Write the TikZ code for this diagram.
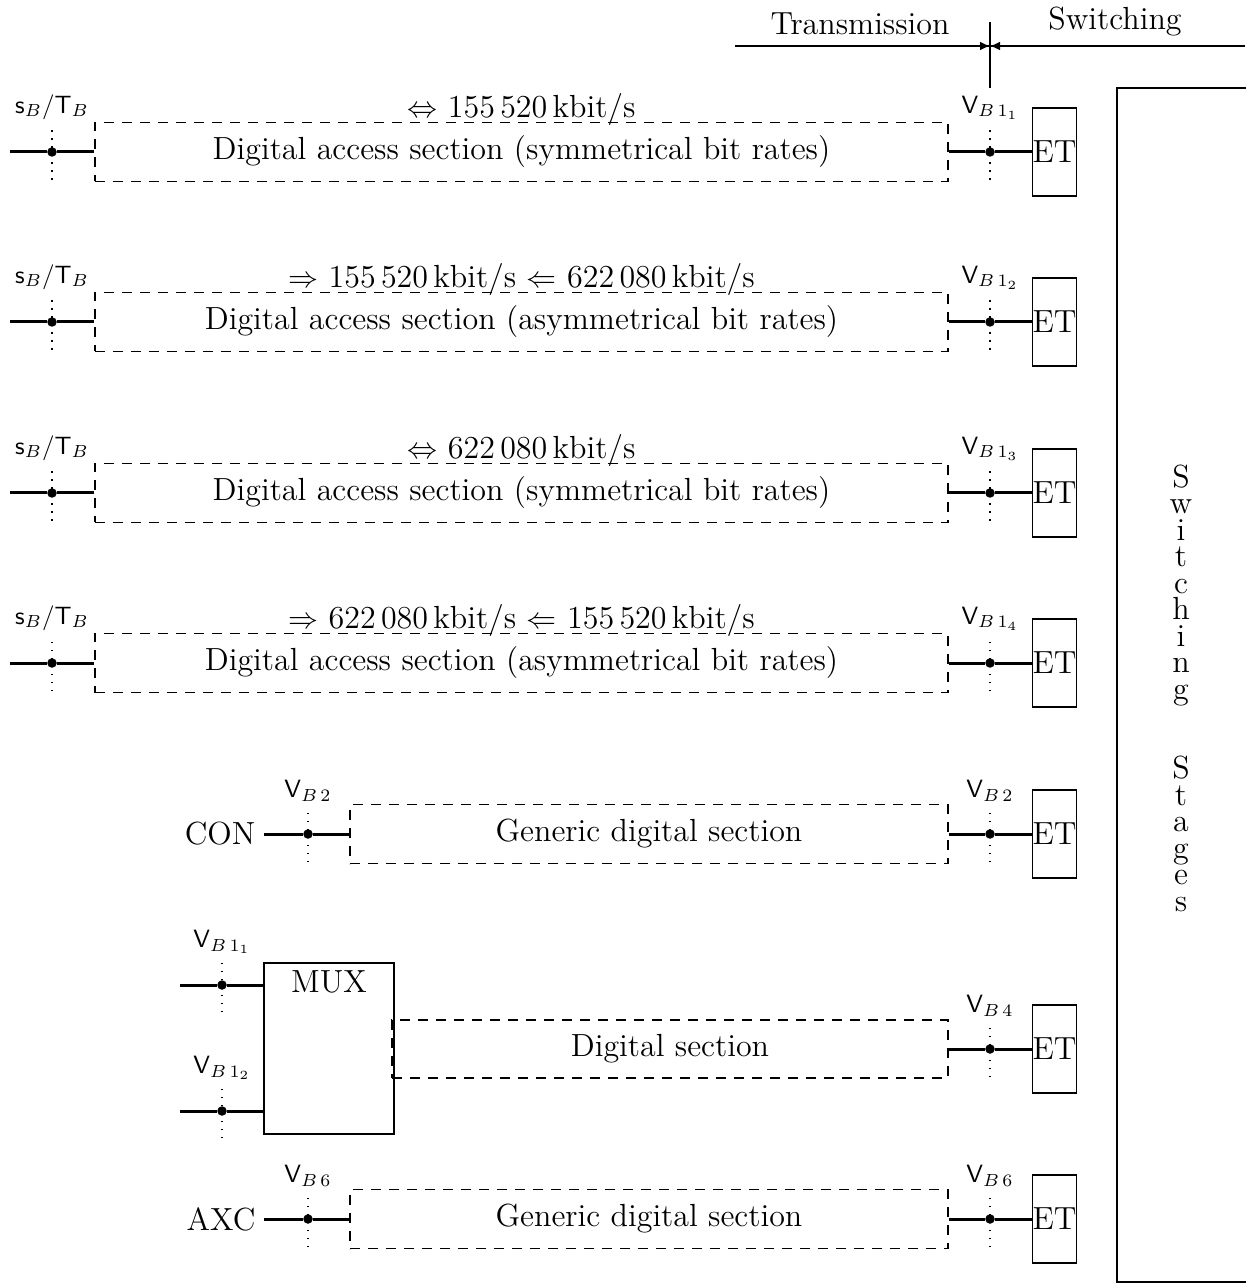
\documentclass[tikz,border=0pt]{standalone}
\usetikzlibrary{arrows.meta}
\tikzset{
  sect/.style={draw, dash pattern=on 4pt off 3.2pt, line width=0.5pt, minimum width=341.2pt, minimum height=23.6pt, inner sep=0pt},
  etbox/.style={draw, line width=0.6pt, minimum width=17.2pt, minimum height=35.2pt, inner sep=0pt},
  junc/.style={circle, fill, inner sep=0pt, minimum size=3.8pt},
  wire/.style={line width=1.2pt},
  probe/.style={line width=0.6pt, dash pattern=on 0.6pt off 2.6pt},
  lab/.style={font=\fontsize{10}{12}\selectfont, inner sep=1.5pt},
  rate/.style={inner sep=0pt, anchor=base, yshift=1.6pt}
}
\begin{document}
\begin{tikzpicture}[x=0.4pt, y=-0.4pt, font=\fontsize{12.8}{15}\selectfont]
    \useasboundingbox (0,0) rectangle (1245,1283);

    % 绘制表头 Transmission / Switching
    \coordinate (hl) at (735,46);
    \coordinate (hr) at (1245,46);
    \coordinate (vt) at (990,22);
    \coordinate (vb) at (990,88);
    \coordinate (al) at (976,46);
    \coordinate (ar) at (1004,46);
    \draw[line width=0.6pt] (hl) -- (hr);
    \draw[line width=1pt] (vt) -- (vb);
    \draw[line width=0.6pt, -{Latex[length=4pt,width=3.5pt]}] (al) -- (vt |- hl);
    \draw[line width=0.6pt, -{Latex[length=4pt,width=3.5pt]}] (ar) -- (vt |- hl);
    \node (tr) at (860,24) {Transmission};
    \node (sw) at (1115,22) {Switching};

    % 绘制交换级
    \draw[line width=0.7pt] (1260,88) -- (1117,88) -- (1117,1282) -- (1260,1282);
    \node[align=center, font=\fontsize{12.8}{10.6}\selectfont] (stg) at (1181,688)
        {S\\w\\i\\t\\c\\h\\i\\n\\g\\\mbox{}\\\mbox{}\\S\\t\\a\\g\\e\\s};

    % 绘制第一条接入段
    \node[sect] (d1) at (521.5,152) {Digital access section (symmetrical bit rates)};
    \node[rate] (r1) at (d1.north) {$\Leftrightarrow$ 155\,520\,kbit/s};
    \coordinate (a1) at (10,152);
    \node[junc] (s1) at (52,152) {};
    \node[junc] (v1) at (990,152) {};
    \node[etbox] (e1) at (1054.5,152) {ET};
    \draw[wire] (a1) -- (s1) -- (d1);
    \draw[wire] (d1) -- (v1) -- (e1);
    \draw[probe] (s1) ++(0,28) -- ++(0,-56) node[lab, above] {$\mathsf{s}_B/\mathsf{T}_B$};
    \draw[probe] (v1) ++(0,28) -- ++(0,-56) node[lab, above] {$\mathsf{V}_{B\,1_1}$};

    % 绘制第二条接入段
    \node[sect] (d2) at (521.5,322) {Digital access section (asymmetrical bit rates)};
    \node[rate] (r2) at (d2.north) {$\Rightarrow$ 155\,520\,kbit/s $\Leftarrow$ 622\,080\,kbit/s};
    \coordinate (a2) at (10,322);
    \node[junc] (s2) at (52,322) {};
    \node[junc] (v2) at (990,322) {};
    \node[etbox] (e2) at (1054.5,322) {ET};
    \draw[wire] (a2) -- (s2) -- (d2);
    \draw[wire] (d2) -- (v2) -- (e2);
    \draw[probe] (s2) ++(0,28) -- ++(0,-56) node[lab, above] {$\mathsf{s}_B/\mathsf{T}_B$};
    \draw[probe] (v2) ++(0,28) -- ++(0,-56) node[lab, above] {$\mathsf{V}_{B\,1_2}$};

    % 绘制第三条接入段
    \node[sect] (d3) at (521.5,493) {Digital access section (symmetrical bit rates)};
    \node[rate] (r3) at (d3.north) {$\Leftrightarrow$ 622\,080\,kbit/s};
    \coordinate (a3) at (10,493);
    \node[junc] (s3) at (52,493) {};
    \node[junc] (v3) at (990,493) {};
    \node[etbox] (e3) at (1054.5,493) {ET};
    \draw[wire] (a3) -- (s3) -- (d3);
    \draw[wire] (d3) -- (v3) -- (e3);
    \draw[probe] (s3) ++(0,28) -- ++(0,-56) node[lab, above] {$\mathsf{s}_B/\mathsf{T}_B$};
    \draw[probe] (v3) ++(0,28) -- ++(0,-56) node[lab, above] {$\mathsf{V}_{B\,1_3}$};

    % 绘制第四条接入段
    \node[sect] (d4) at (521.5,663) {Digital access section (asymmetrical bit rates)};
    \node[rate] (r4) at (d4.north) {$\Rightarrow$ 622\,080\,kbit/s $\Leftarrow$ 155\,520\,kbit/s};
    \coordinate (a4) at (10,663);
    \node[junc] (s4) at (52,663) {};
    \node[junc] (v4) at (990,663) {};
    \node[etbox] (e4) at (1054.5,663) {ET};
    \draw[wire] (a4) -- (s4) -- (d4);
    \draw[wire] (d4) -- (v4) -- (e4);
    \draw[probe] (s4) ++(0,28) -- ++(0,-56) node[lab, above] {$\mathsf{s}_B/\mathsf{T}_B$};
    \draw[probe] (v4) ++(0,28) -- ++(0,-56) node[lab, above] {$\mathsf{V}_{B\,1_4}$};

    % 绘制 CON 段
    \node (con) at (220,834) {CON};
    \node[sect, minimum width=239.2pt] (d5) at (649,834) {Generic digital section};
    \node[junc] (s5) at (308,834) {};
    \node[junc] (v5) at (990,834) {};
    \node[etbox] (e5) at (1054.5,834) {ET};
    \draw[wire] (con) -- (s5) -- (d5);
    \draw[wire] (d5) -- (v5) -- (e5);
    \draw[probe] (s5) ++(0,28) -- ++(0,-56) node[lab, above] {$\mathsf{V}_{B\,2}$};
    \draw[probe] (v5) ++(0,28) -- ++(0,-56) node[lab, above] {$\mathsf{V}_{B\,2}$};

    % 绘制复用器 MUX
    \node[draw, line width=0.6pt, minimum width=52pt, minimum height=68.4pt] (mux) at (329,1048.5) {};
    \node[below] (muxt) at (mux.north) {MUX};
    \coordinate (m1) at (180,985);
    \coordinate (m2) at (180,1111);
    \node[junc] (j1) at (222,985) {};
    \node[junc] (j2) at (222,1111) {};
    \draw[wire] (m1) -- (j1) -- (j1 -| mux.west);
    \draw[wire] (m2) -- (j2) -- (j2 -| mux.west);
    \draw[probe] (j1) ++(0,27) -- ++(0,-54) node[lab, above] {$\mathsf{V}_{B\,1_1}$};
    \draw[probe] (j2) ++(0,27) -- ++(0,-54) node[lab, above] {$\mathsf{V}_{B\,1_2}$};
    \node[sect, minimum width=222.4pt, minimum height=23.2pt] (d6) at (670,1049) {Digital section};
    \node[junc] (v6) at (990,1049) {};
    \node[etbox] (e6) at (1054.5,1049) {ET};
    \draw[wire] (d6) -- (v6) -- (e6);
    \draw[probe] (v6) ++(0,28) -- ++(0,-56) node[lab, above] {$\mathsf{V}_{B\,4}$};

    % 绘制 AXC 段
    \node (axc) at (221,1219) {AXC};
    \node[sect, minimum width=239.2pt] (d7) at (649,1219) {Generic digital section};
    \node[junc] (s7) at (308,1219) {};
    \node[junc] (v7) at (990,1219) {};
    \node[etbox] (e7) at (1054.5,1219) {ET};
    \draw[wire] (axc) -- (s7) -- (d7);
    \draw[wire] (d7) -- (v7) -- (e7);
    \draw[probe] (s7) ++(0,28) -- ++(0,-56) node[lab, above] {$\mathsf{V}_{B\,6}$};
    \draw[probe] (v7) ++(0,28) -- ++(0,-56) node[lab, above] {$\mathsf{V}_{B\,6}$};
\end{tikzpicture}
\end{document}
